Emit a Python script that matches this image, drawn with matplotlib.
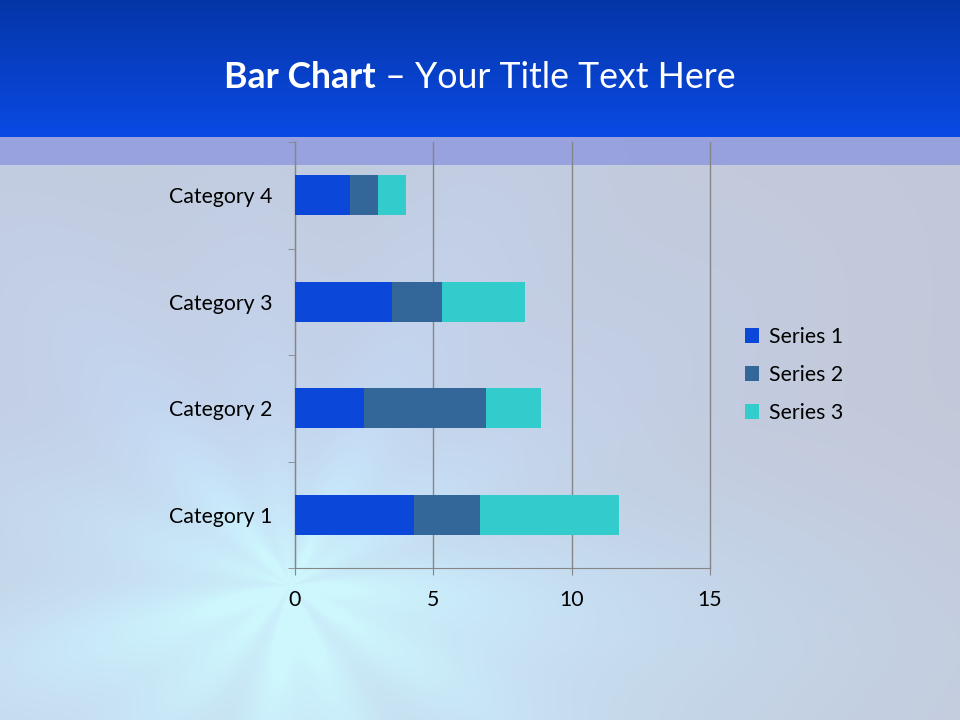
import numpy as np
import matplotlib
matplotlib.use('Agg')
import matplotlib.pyplot as plt
from matplotlib.ticker import FixedLocator

# chart data
categories = ['Category 1', 'Category 2', 'Category 3', 'Category 4']
series_names = ['Series 1', 'Series 2', 'Series 3']
series1 = [4.3, 2.5, 3.5, 2.0]
series2 = [2.4, 4.4, 1.8, 1.0]
series3 = [5.0, 2.0, 3.0, 1.0]
x_ticks = [0, 5, 10, 15]

colors = ['#0b48d9', '#336699', '#33cccc']
plt.rcParams['font.family'] = ['Lato', 'DejaVu Sans']

W, H = 960, 720
fig = plt.figure(figsize=(9.6, 7.2), dpi=100)

# ---- slide background (decoration only) ----
yy, xx = np.mgrid[0:H, 0:W].astype(float)
base = np.array([195, 198, 210]) / 255.
cyan = np.array([205, 246, 253]) / 255.
lav = np.array([190, 202, 248]) / 255.
cx, cy = 290, 585
r = np.hypot(xx - cx, (yy - cy) * 1.1)
ang = np.arctan2(yy - cy, xx - cx)
rays = 0.6 + 0.2 * np.sin(ang * 5 + 0.4) + 0.2 * np.sin(ang * 11 + 1.3)
# stronger glow towards the bottom
down = np.clip((yy - 400) / 250., 0, 1)
glow = np.exp(-r / 300.) * (0.6 + 0.4 * rays) * (0.7 + 0.8 * down)
glow = np.clip(glow, 0, 1)
lglow = np.exp(-r / 420.) * (0.55 + 0.45 * rays)
lglow = np.clip(lglow * 1.15, 0, 1)
img = base[None, None, :] * np.ones((H, W, 1))
img = img * (1 - lglow[..., None]) + lav * lglow[..., None]
img = img * (1 - glow[..., None]) + cyan * glow[..., None]
# top title band gradient
top = np.array([5, 54, 168]) / 255.
bot = np.array([10, 74, 228]) / 255.
t = (yy[:137, :1] / 136.)[..., None]
img[:137] = top * (1 - t) + bot * t
# translucent lavender strip
strip = np.array([128, 140, 222]) / 255.
img[137:165] = img[137:165] * 0.35 + strip * 0.65

bg = fig.add_axes([0, 0, 1, 1])
bg.imshow(img, aspect='auto', extent=(0, W, H, 0))
bg.axis('off')

# ---- title: bold part + regular part, centred together ----
title_bold = 'Bar Chart'
title_rest = ' \u2013 Your Title Text Here'
tb = fig.text(0, 1 - 77 / H, title_bold, color='white', fontsize=25.7,
              fontweight='bold', va='center')
tr = fig.text(0, 1 - 77 / H, title_rest, color='white', fontsize=25.7, va='center')
fig.canvas.draw()
rend = fig.canvas.get_renderer()
wb = tb.get_window_extent(rend).width
wr = tr.get_window_extent(rend).width
x0 = (W - wb - wr) / 2.
tb.set_x(x0 / W)
tr.set_x((x0 + wb) / W)

# ---- chart ----
ax = fig.add_axes([295 / W, 1 - 568 / H, 415 / W, 426 / H])
ax.patch.set_alpha(0)
ypos = np.arange(len(categories))
left = np.zeros(len(categories))
for vals, name, c in zip([series1, series2, series3], series_names, colors):
    ax.barh(ypos, vals, left=left, height=0.38, color=c, label=name, zorder=3)
    left = left + np.array(vals)

ax.set_xlim(0, 15)
ax.set_ylim(-0.5, 3.5)
ax.set_xticks(x_ticks)
ax.set_yticks(ypos)
ax.set_yticklabels(categories)
ax.yaxis.set_minor_locator(FixedLocator(np.arange(-0.5, 4, 1)))
ax.tick_params(axis='y', which='major', length=0, pad=16, labelsize=15.3)
ax.tick_params(axis='y', which='minor', length=5, color='#868686')
ax.tick_params(axis='x', length=5, color='#868686', pad=11, labelsize=15.3)
ax.grid(axis='x', color='#868686', linewidth=1)
for gl in ax.get_xgridlines():
    gl.set_clip_on(False)
ax.set_axisbelow(True)
for s in ['top', 'right']:
    ax.spines[s].set_visible(False)
for s in ['left', 'bottom']:
    ax.spines[s].set_color('#868686')

fig.legend(loc='center left', bbox_to_anchor=(745 / W, 1 - 375 / H),
           frameon=False, fontsize=15.3, handlelength=0.68, handleheight=0.68,
           labelspacing=0.85, handletextpad=0.45, borderpad=0, borderaxespad=0)

fig.savefig('out.png', dpi=100)
